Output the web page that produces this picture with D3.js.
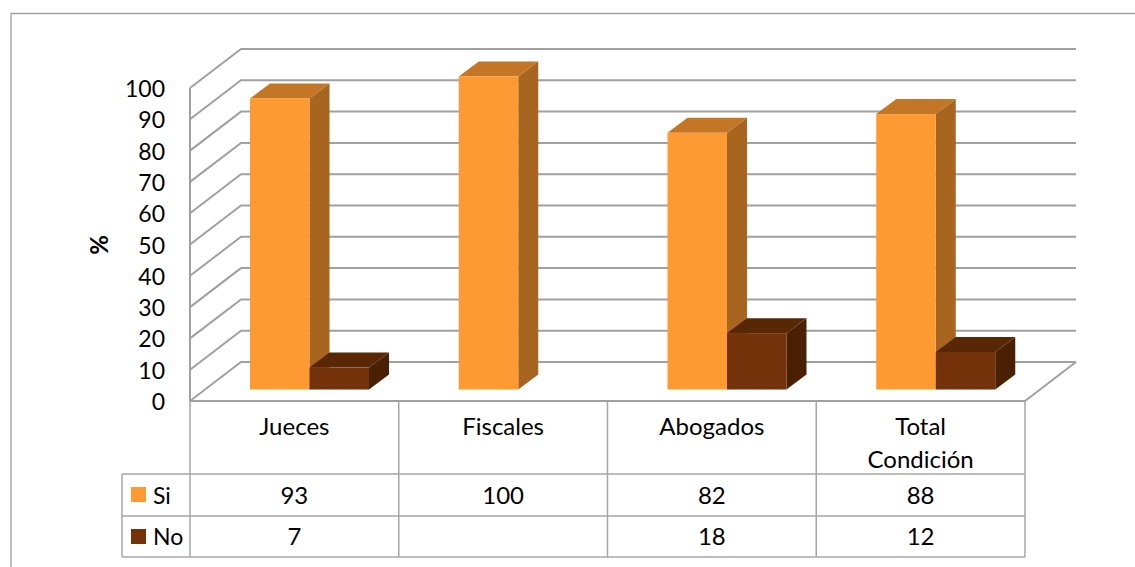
<!DOCTYPE html>
<html><head><meta charset="utf-8">
<script src="https://cdn.jsdelivr.net/npm/d3@7/dist/d3.min.js"></script>
<style>html,body{margin:0;padding:0;background:#fff}svg{display:block}text{font-family:Lato,sans-serif;fill:#000}</style>
</head><body><svg id="c" width="1135" height="567"></svg>
<script>
const categories=["Jueces","Fiscales","Abogados","Total Condición"];
const categoryLines=[["Jueces"],["Fiscales"],["Abogados"],["Total","Condición"]];
const seriesNames=["Si","No"];
const si=[93,100,82,88];
const no=[7,null,18,12];
const yTicks=[0,10,20,30,40,50,60,70,80,90,100];
const colors={Si:{front:"#ff9a33",side:"#a8651f",top:"#c27626"},No:{front:"#733209",side:"#4a2004",top:"#582705"}};

const svg=d3.select("#c");
const GRID="#a0a0a0",TBL="#a6a6a6";
const fs=24, fsSmall=23;
const x=d3.scaleBand().domain(categories).range([190,1025]);
const y=d3.scaleLinear().domain([0,100]).range([401,88]);
const depth=[51,-39];
// outer frame: open on the right, runs off the page
svg.append("path").attr("d","M11,567V13.5H1135").attr("fill","none").attr("stroke","#a0a0a0").attr("stroke-width",1.3);
// walls
const g=svg.append("g").attr("fill","none").attr("stroke",GRID).attr("stroke-width",2);
yTicks.forEach(t=>{
  g.append("path").attr("d",`M${x.range()[0]},${y(t)}L${x.range()[0]+depth[0]},${y(t)+depth[1]}H${x.range()[1]+depth[0]}`);
});
g.append("path").attr("d",`M${x.range()[0]},${y(100)}V${y(0)}H${x.range()[1]}L${x.range()[1]+depth[0]},${y(0)+depth[1]}`);
// bars
const baseLift=11.5, barW=59.5, bd=[20,-15], pad=60;
const h=v=>y(0)-y(v);
function bar(cat,i,name,v){
  if(v==null) return;
  const c=colors[name], x0=x(cat)+pad+i*barW, x1=x0+barW, yb=y(0)-baseLift, yt=yb-h(v);
  const b=svg.append("g");
  b.append("polygon").attr("points",[[x1,yt],[x1+bd[0],yt+bd[1]],[x1+bd[0],yb+bd[1]],[x1,yb]].join(" ")).attr("fill",c.side);
  b.append("polygon").attr("points",[[x0,yt],[x0+bd[0],yt+bd[1]],[x1+bd[0],yt+bd[1]],[x1,yt]].join(" ")).attr("fill",c.top);
  b.append("rect").attr("x",x0).attr("y",yt).attr("width",barW).attr("height",yb-yt).attr("fill",c.front);
}
categories.forEach((cat,k)=>{bar(cat,0,"Si",si[k]);bar(cat,1,"No",no[k]);});
// y axis labels
yTicks.forEach(t=>svg.append("text").attr("x",165).attr("y",y(t)+9).attr("text-anchor","end").attr("font-size",fsSmall).text(t));
svg.append("text").attr("transform","translate(108,245) rotate(-90)").attr("text-anchor","middle").attr("font-size",fs).attr("font-weight",700).text("%");
// data table
const rowY=[401,474,516,557];
const legendX=122;
const t=svg.append("g").attr("stroke",TBL).attr("stroke-width",1.5).attr("fill","none");
const edges=[...categories.map(c=>x(c)),x.range()[1]];
edges.forEach(e=>t.append("line").attr("x1",e).attr("x2",e).attr("y1",rowY[0]).attr("y2",rowY[3]));
rowY.slice(1).forEach(r=>t.append("line").attr("x1",legendX).attr("x2",x.range()[1]).attr("y1",r).attr("y2",r));
t.append("line").attr("x1",legendX).attr("x2",legendX).attr("y1",rowY[1]).attr("y2",rowY[3]);
categories.forEach((c,k)=>{
  const cx=x(c)+x.bandwidth()/2, lines=categoryLines[k];
  lines.forEach((l,j)=>svg.append("text").attr("x",cx).attr("y",435+j*33).attr("text-anchor","middle").attr("font-size",fs).text(l));
  [si,no].forEach((s,r)=>{ if(s[k]!=null) svg.append("text").attr("x",cx).attr("y",[504,545][r]).attr("text-anchor","middle").attr("font-size",fs).text(s[k]); });
});
seriesNames.forEach((n,r)=>{
  svg.append("rect").attr("x",131).attr("y",[487,529][r]).attr("width",15).attr("height",15).attr("fill",colors[n].front);
  svg.append("text").attr("x",153).attr("y",[504,545][r]).attr("font-size",fsSmall).text(n);
});
</script></body></html>
